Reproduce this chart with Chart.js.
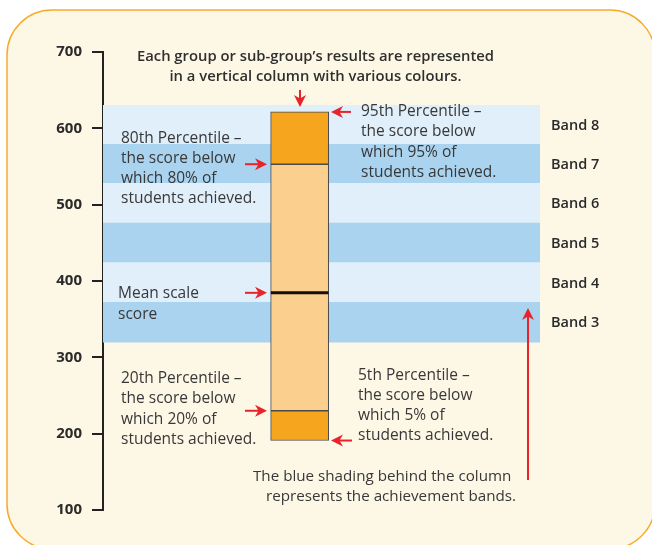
<!DOCTYPE html>
<html>
<head>
<meta charset="utf-8">
<script src="https://cdn.jsdelivr.net/npm/chart.js@4.4.1/dist/chart.umd.min.js"></script>
<style>
  html, body { margin: 0; padding: 0; background: #fff; }
  #wrap { width: 652px; height: 545px; position: relative; }
</style>
</head>
<body>
<div id="wrap"><canvas id="chart"></canvas></div>
<script>
// achievement bands (scale score ranges)
const bandNames = ['Band 3', 'Band 4', 'Band 5', 'Band 6', 'Band 7', 'Band 8'];
const bandLow = [320, 372, 424, 476, 528, 579];
const bandHigh = [372, 424, 476, 528, 579, 630];

// column: 5th-20th, 20th-80th, 80th-95th percentiles
const columnLow = [191, 230, 553];
const columnHigh = [230, 553, 621.5];
const meanScore = 384.5;

const yTicks = [100, 200, 300, 400, 500, 600, 700];

const FONT = '"Open Sans", Lato, sans-serif';
const RED = '#e8232a';

const bandDatasets = bandNames.map((name, i) => ({
  label: name,
  xAxisID: 'x',
  data: [[bandLow[i], bandHigh[i]]],
  backgroundColor: i % 2 === 0 ? '#a9d3ef' : '#e1effa',
  borderWidth: 0,
  barPercentage: 1,
  categoryPercentage: 1,
  grouped: false,
  order: 5
}));

const columnColors = ['#f6a51e', '#fbcf8e', '#f6a51e'];
const columnDatasets = columnLow.map((lo, i) => ({
  label: 'column ' + i,
  xAxisID: 'x2',
  data: [{ x: 45, y: [lo, columnHigh[i]] }],
  backgroundColor: columnColors[i],
  borderColor: '#4a4a4a',
  borderWidth: 1,
  borderSkipped: false,
  barThickness: 58,
  grouped: false,
  order: 2
}));

const meanDataset = {
  type: 'line',
  label: 'Mean scale score',
  xAxisID: 'x2',
  data: [{ x: 38.4, y: meanScore }, { x: 51.6, y: meanScore }],
  borderColor: '#111',
  borderWidth: 3,
  pointRadius: 0,
  order: 1
};

function arrow(ctx, x1, y1, x2, y2) {
  // line from (x1,y1) to tip (x2,y2)
  const a = Math.atan2(y2 - y1, x2 - x1);
  ctx.save();
  ctx.strokeStyle = RED;
  ctx.fillStyle = RED;
  ctx.lineWidth = 2;
  ctx.beginPath();
  ctx.moveTo(x1, y1);
  ctx.lineTo(x2 - 6 * Math.cos(a), y2 - 6 * Math.sin(a));
  ctx.stroke();
  ctx.translate(x2, y2);
  ctx.rotate(a);
  ctx.beginPath();
  ctx.moveTo(0, 0);
  ctx.lineTo(-12, -6);
  ctx.lineTo(-8.5, 0);
  ctx.lineTo(-12, 6);
  ctx.closePath();
  ctx.fill();
  ctx.restore();
}

function lines(ctx, arr, x, y, step) {
  arr.forEach((t, i) => ctx.fillText(t, x, y + i * step));
}

const panel = {
  id: 'panel',
  beforeDraw(chart) {
    const ctx = chart.ctx;
    ctx.save();
    ctx.fillStyle = '#fff';
    ctx.fillRect(0, 0, chart.width, chart.height);
    ctx.beginPath();
    ctx.roundRect(7, 10, 648, 539, 45);
    ctx.fillStyle = '#fdf7e6';
    ctx.fill();
    ctx.strokeStyle = '#f7ab2c';
    ctx.lineWidth = 1.5;
    ctx.stroke();
    ctx.restore();
  }
};

const notes = {
  id: 'notes',
  afterDatasetsDraw(chart) {
    const ctx = chart.ctx;
    const y = chart.scales.y;
    const colTop = y.getPixelForValue(columnHigh[2]);
    const colBot = y.getPixelForValue(columnLow[0]);
    const p80 = y.getPixelForValue(columnLow[2]);
    const p20 = y.getPixelForValue(columnHigh[0]);
    const mean = y.getPixelForValue(meanScore);

    ctx.save();
    ctx.textBaseline = 'middle';

    // title
    ctx.fillStyle = '#2f2f2f';
    ctx.font = '600 14.8px ' + FONT;
    ctx.textAlign = 'center';
    ctx.fillText('Each group or sub-group’s results are represented', 315.5, 57);
    ctx.fillText('in a vertical column with various colours.', 315.5, 77);

    // band labels
    ctx.textAlign = 'left';
    ctx.font = '600 14.5px ' + FONT;
    ctx.fillStyle = '#2a2a2a';
    bandNames.forEach((n, i) => {
      const yc = y.getPixelForValue((bandLow[i] + bandHigh[i]) / 2);
      ctx.fillText(n, 551, yc + 1);
    });

    // annotations
    ctx.font = '15.5px ' + FONT;
    ctx.fillStyle = '#383838';
    lines(ctx, ['80th Percentile –', 'the score below', 'which 80% of', 'students achieved.'], 121, 138.5, 20);
    lines(ctx, ['95th Percentile –', 'the score below', 'which 95% of', 'students achieved.'], 361, 111.5, 20.3);
    lines(ctx, ['Mean scale', 'score'], 118, 293.5, 21.5);
    lines(ctx, ['20th Percentile –', 'the score below', 'which 20% of', 'students achieved.'], 121, 378.5, 20.5);
    lines(ctx, ['5th Percentile –', 'the score below', 'which 5% of', 'students achieved.'], 358, 375.5, 20);
    ctx.font = '15.2px ' + FONT;
    ctx.fillText('The blue shading behind the column', 253, 476.5);
    ctx.fillText('represents the achievement bands.', 266, 496.5);

    // arrows
    arrow(ctx, 300, 90, 300, colTop - 5);
    arrow(ctx, 351, colTop, 331, colTop);
    arrow(ctx, 245, p80, 267, p80);
    arrow(ctx, 245, mean, 267, mean);
    arrow(ctx, 245, p20, 267, p20);
    arrow(ctx, 352, colBot, 331, colBot);
    arrow(ctx, 528, 480, 528, 308);

    ctx.restore();
  }
};

new Chart(document.getElementById('chart'), {
  type: 'bar',
  data: {
    labels: ['bands'],
    datasets: [meanDataset, ...columnDatasets, ...bandDatasets]
  },
  options: {
    responsive: true,
    maintainAspectRatio: false,
    animation: false,
    layout: { padding: { top: 52, bottom: 35, left: 0, right: 112 } },
    plugins: { legend: { display: false }, tooltip: { enabled: false } },
    scales: {
      x: { type: 'category', display: false },
      x2: { type: 'linear', display: false, min: 0, max: 100, offset: false },
      y: {
        min: 100,
        max: 700,
        afterFit: s => { s.width = 103; },
        afterBuildTicks: s => { s.ticks = yTicks.map(v => ({ value: v })); },
        ticks: {
          padding: 10,
          color: '#2b2b2b',
          font: { family: FONT, size: 15, weight: 'bold' }
        },
        grid: { drawOnChartArea: false, drawTicks: true, tickLength: 11, color: '#222', lineWidth: 2 },
        border: { display: true, color: '#222', width: 2 }
      }
    }
  },
  plugins: [panel, notes]
});
</script>
</body>
</html>
